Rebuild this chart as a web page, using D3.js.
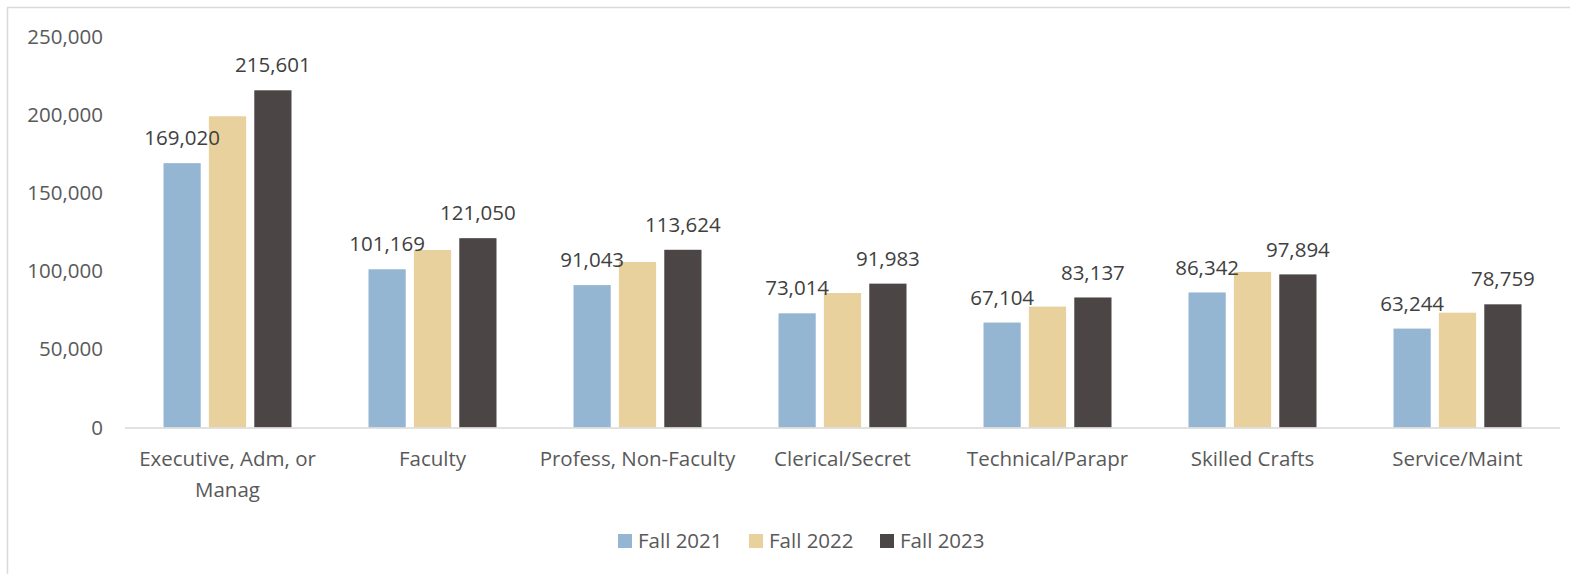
<!DOCTYPE html>
<html>
<head>
<meta charset="utf-8">
<script src="https://cdn.jsdelivr.net/npm/d3@7"></script>
<style>
  body { margin: 0; background: #fff; }
  text { font-family: "Open Sans", "Noto Sans", sans-serif; }
</style>
</head>
<body>
<div id="chart"></div>
<script>
// Chart data
var categories = ["Executive, Adm, or Manag", "Faculty", "Profess, Non-Faculty", "Clerical/Secret",
    "Technical/Parapr", "Skilled Crafts", "Service/Maint"];
var seriesNames = ["Fall 2021", "Fall 2022", "Fall 2023"];
var fall2021 = [169020, 101169, 91043, 73014, 67104, 86342, 63244];
var fall2022 = [199000, 113500, 105800, 86000, 77300, 99500, 73400];
var fall2023 = [215601, 121050, 113624, 91983, 83137, 97894, 78759];
var yTicks = [0, 50000, 100000, 150000, 200000, 250000];
// which series carry data labels
var labelled = [true, false, true];

var colors = ["#95B6D3", "#E8D19C", "#4B4545"];
var allSeries = [fall2021, fall2022, fall2023];

var svgWidth = 1570;
var svgHeight = 574;
var fontSize = "20.5px";

var svg = d3.select("#chart")
    .append("svg")
    .attr("width", svgWidth)
    .attr("height", svgHeight);

// chart frame
svg.append("rect")
    .attr("x", 7.5)
    .attr("y", 7.5)
    .attr("width", svgWidth + 10)
    .attr("height", svgHeight + 10)
    .attr("fill", "none")
    .attr("stroke", "#D9D9D9")
    .attr("stroke-width", 1.5);

var x0 = d3.scaleBand()
    .domain(categories)
    .range([125, 1560])
    .padding(0);

var x1 = d3.scaleBand()
    .domain(seriesNames)
    .range([0, 128])
    .paddingInner(0.18);

var y = d3.scaleLinear()
    .domain([0, 250000])
    .range([427.5, 36.5]);

// y axis labels (no axis line)
var yAxis = svg.append("g")
    .attr("transform", "translate(103,0)")
    .call(d3.axisLeft(y).tickValues(yTicks).tickFormat(d3.format(",")).tickSize(0).tickPadding(0));
yAxis.select(".domain").remove();
yAxis.selectAll("text")
    .attr("font-family", "'Open Sans', sans-serif")
    .attr("font-size", fontSize)
    .attr("fill", "#595959");

// bars
var groups = svg.selectAll(".grp")
    .data(categories)
    .enter()
    .append("g")
    .attr("class", "grp")
    .attr("transform", d => `translate(${x0(d) + x0.bandwidth() / 2 - 64},0)`);

seriesNames.forEach(function(name, s) {
    groups.append("rect")
        .attr("x", x1(name))
        .attr("y", (d, i) => y(allSeries[s][i]))
        .attr("width", x1.bandwidth())
        .attr("height", (d, i) => y(0) - y(allSeries[s][i]))
        .attr("fill", colors[s]);
});

// data labels go on top of all bars
seriesNames.forEach(function(name, s) {
    if (!labelled[s]) return;
    groups.append("text")
        .attr("x", x1(name) + x1.bandwidth() / 2)
        .attr("y", (d, i) => y(allSeries[s][i]) - 25)
        .attr("dy", "0.35em")
        .attr("text-anchor", "middle")
        .attr("font-size", fontSize)
        .attr("fill", "#404040")
        .text((d, i) => d3.format(",")(allSeries[s][i]));
});

// x axis baseline
svg.append("line")
    .attr("x1", 125)
    .attr("x2", 1560)
    .attr("y1", y(0) + 0.5)
    .attr("y2", y(0) + 0.5)
    .attr("stroke", "#D9D9D9")
    .attr("stroke-width", 1.5);

// category labels, the first one wraps
var xLabels = svg.selectAll(".xlab")
    .data(categories)
    .enter()
    .append("text")
    .attr("class", "xlab")
    .attr("text-anchor", "middle")
    .attr("font-size", fontSize)
    .attr("fill", "#595959")
    .attr("x", d => x0(d) + x0.bandwidth() / 2)
    .attr("y", 466);

xLabels.each(function(d) {
    var t = d3.select(this);
    var lines = d === "Executive, Adm, or Manag" ? ["Executive, Adm, or", "Manag"] : [d];
    lines.forEach(function(line, k) {
        t.append("tspan")
            .attr("x", x0(d) + x0.bandwidth() / 2)
            .attr("dy", k === 0 ? 0 : 31)
            .text(line);
    });
});

// legend
var legendX = [618, 749, 880];
var legend = svg.selectAll(".leg")
    .data(seriesNames)
    .enter()
    .append("g")
    .attr("class", "leg")
    .attr("transform", (d, i) => `translate(${legendX[i]}, 534)`);

legend.append("rect")
    .attr("width", 14)
    .attr("height", 14)
    .attr("fill", (d, i) => colors[i]);

legend.append("text")
    .attr("x", 20)
    .attr("y", 7)
    .attr("dy", "0.35em")
    .attr("font-size", fontSize)
    .attr("fill", "#595959")
    .text(d => d);
</script>
</body>
</html>
